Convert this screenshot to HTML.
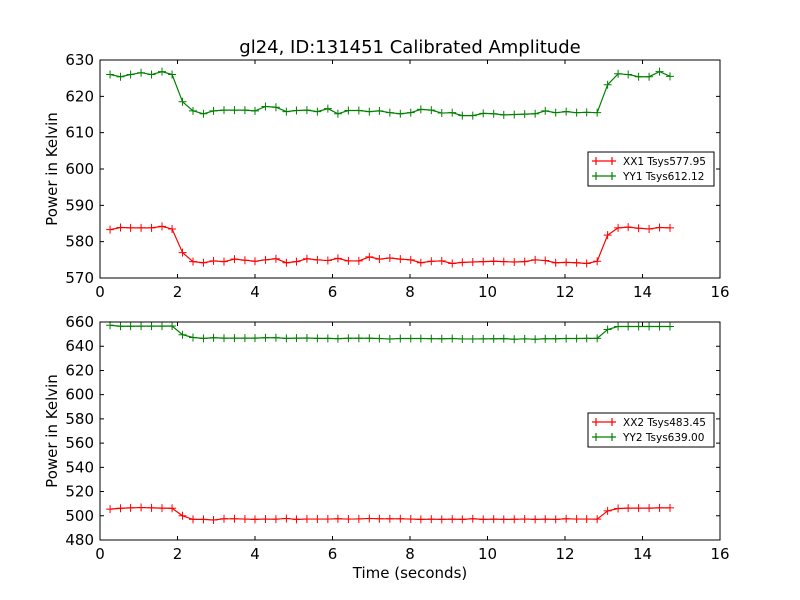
<!DOCTYPE html>
<html><head><meta charset="utf-8"><style>body{margin:0;background:#fff}svg{display:block;font-family:"DejaVu Sans","Liberation Sans",sans-serif}</style></head>
<body>
<svg id="chart" width="800" height="600"></svg>
<script>
const times=[0.26,0.53,0.79,1.06,1.33,1.60,1.86,2.13,2.40,2.67,2.93,3.20,3.47,3.74,4.00,4.27,4.54,4.81,5.07,5.34,5.61,5.88,6.14,6.41,6.68,6.95,7.21,7.48,7.75,8.02,8.28,8.55,8.82,9.09,9.35,9.62,9.89,10.16,10.42,10.69,10.96,11.23,11.49,11.76,12.03,12.30,12.56,12.83,13.10,13.37,13.63,13.90,14.17,14.44,14.71];
const xx1=[583.3,583.9,583.8,583.8,583.8,584.2,583.5,577.0,574.5,574.2,574.7,574.5,575.2,574.9,574.6,575.0,575.3,574.2,574.5,575.3,575.0,574.8,575.4,574.7,574.7,575.8,575.2,575.5,575.2,575.0,574.2,574.6,574.7,574.0,574.3,574.4,574.5,574.6,574.5,574.4,574.5,575.0,574.8,574.2,574.3,574.2,574.0,574.6,581.8,583.8,584.0,583.7,583.5,583.9,583.8];
const yy1=[626.0,625.4,626.0,626.5,626.0,626.8,626.0,618.5,616.0,615.2,616.0,616.2,616.2,616.2,616.0,617.2,617.0,615.8,616.1,616.2,615.8,616.6,615.2,616.1,616.1,615.8,616.0,615.5,615.2,615.5,616.4,616.2,615.4,615.5,614.7,614.7,615.3,615.2,614.9,615.0,615.1,615.2,616.0,615.5,615.8,615.5,615.6,615.5,623.2,626.2,626.0,625.4,625.4,626.8,625.5];
const xx2=[505.5,506.2,506.5,506.8,506.5,506.3,506.2,500.0,497.0,497.0,496.5,497.5,497.5,497.3,497.0,497.3,497.2,497.8,497.0,497.3,497.3,497.3,497.5,497.3,497.4,497.8,497.5,497.5,497.5,497.3,497.0,497.2,497.0,497.2,497.0,497.5,497.0,497.2,497.0,497.1,497.3,497.0,497.2,497.0,497.5,497.3,497.3,497.2,504.0,506.0,506.3,506.3,506.3,506.5,506.5];
const yy2=[657.3,656.5,656.5,656.6,656.6,656.6,656.7,649.5,647.2,646.5,647.0,646.7,646.7,646.7,646.7,647.0,647.0,646.5,646.7,646.8,646.5,646.5,646.3,646.6,646.6,646.6,646.4,646.0,646.4,646.4,646.4,646.3,646.2,646.4,646.0,646.0,646.1,646.2,646.3,645.8,646.1,645.8,646.2,646.2,646.4,646.4,646.5,646.5,653.8,656.3,656.3,656.3,656.3,656.3,656.3];
const xTicks=[0,2,4,6,8,10,12,14,16];
const yTicksTop=[570,580,590,600,610,620,630];
const yTicksBot=[480,500,520,540,560,580,600,620,640,660];
const legTop=["XX1 Tsys577.95","YY1 Tsys612.12"];
const legBot=["XX2 Tsys483.45","YY2 Tsys639.00"];
const NS="http://www.w3.org/2000/svg",svg=document.getElementById('chart');
function mk(t,a,p){const e=document.createElementNS(NS,t);for(const k in a)e.setAttribute(k,a[k]);(p||svg).appendChild(e);return e;}
const X0=100,X1=720,xs=v=>X0+(v-0)/(16-0)*(X1-X0);
function panel(top,bot,ymin,ymax,yt,s1,s2,leg,legY,name){
  const g=mk('g',{});
  
  
  const ys=v=>bot-(v-ymin)/(ymax-ymin)*(bot-top);
  [[s1,'#ff0000'],[s2,'#008000']].forEach(([s,c],k)=>{
    const pts=times.map((t,i)=>xs(t)+','+ys(s[i])).join(' ');
    const pl=mk('polyline',{points:pts,fill:'none',stroke:c,'stroke-width':1.2},g);
    
    
    times.forEach((t,i)=>{const x=xs(t),y=ys(s[i]);
      const m=mk('path',{d:`M${x-4},${y}H${x+4}M${x},${y-4}V${y+4}`,stroke:c,'stroke-width':1},g);
      
      });
  });
  const fr=mk('rect',{x:X0,y:top,width:X1-X0,height:bot-top,fill:'none',stroke:'#000','stroke-width':1},g);
  
  
  xTicks.forEach(v=>{const x=xs(v);
    mk('path',{d:`M${x},${bot}v-4M${x},${top}v4`,stroke:'#000'},g);
    const t=mk('text',{x:x,y:bot+19,'text-anchor':'middle','font-size':15},g);t.textContent=v;
    
    });
  yt.forEach(v=>{const y=ys(v);
    mk('path',{d:`M${X0},${y}h4M${X1},${y}h-4`,stroke:'#000'},g);
    const t=mk('text',{x:X0-6,y:y+5,'text-anchor':'end','font-size':15},g);t.textContent=v;
    
    });
  const yl=mk('text',{x:57,y:(top+bot)/2,'text-anchor':'middle','font-size':15,transform:`rotate(-90 57 ${(top+bot)/2})`},g);
  yl.textContent='Power in Kelvin';
  
  
  const lg=mk('g',{},g);
  
  
  mk('rect',{x:588,y:legY,width:126,height:34,fill:'#fff',stroke:'#000'},lg);
  leg.forEach((s,k)=>{const y=legY+9+k*15,c=k?'#008000':'#ff0000';
    mk('path',{d:`M592,${y}h24M596,${y-4}v8M612,${y-4}v8`,stroke:c,'stroke-width':1.2},lg);
    const t=mk('text',{x:623,y:y+4,'font-size':10.5},lg);t.textContent=s;
    
    });
}
panel(60,278,570,630,yTicksTop,xx1,yy1,legTop,152,'top-panel');
panel(322,540,480,660,yTicksBot,xx2,yy2,legBot,413,'bottom-panel');
const ti=mk('text',{x:410,y:53,'text-anchor':'middle','font-size':18});ti.textContent='gl24, ID:131451 Calibrated Amplitude';


const xl=mk('text',{x:410,y:578,'text-anchor':'middle','font-size':15});xl.textContent='Time (seconds)';


</script>
</body></html>
